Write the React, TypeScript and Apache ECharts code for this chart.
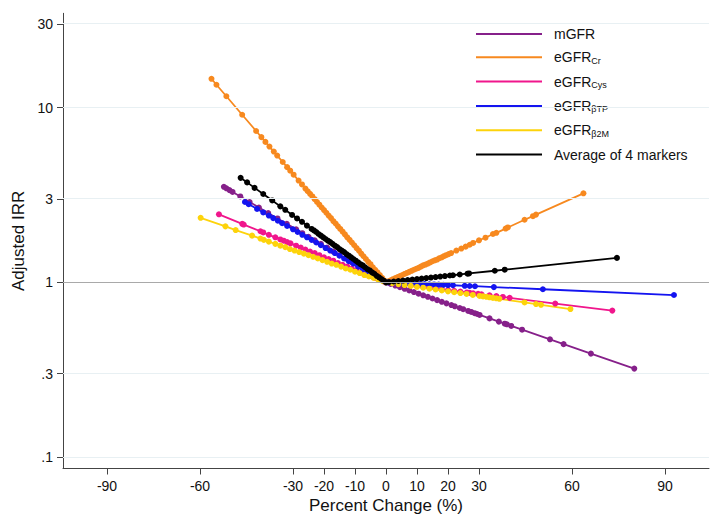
import React, { useEffect, useRef } from 'react';
import * as echarts from 'echarts';

// ---------- data ----------
const seriesNames = ['mGFR', 'eGFR_Cr', 'eGFR_Cys', 'eGFR_bTP', 'eGFR_b2M', 'Average of 4 markers'];
const legendBase = ['mGFR', 'eGFR', 'eGFR', 'eGFR', 'eGFR', 'Average of 4 markers'];
const legendSub = ['', 'Cr', 'Cys', 'βTP', 'β2M', ''];
const colors = ['#86208a', '#f7891f', '#f0168c', '#1414f0', '#fdd30b', '#000000'];

const mgfrX = [-52.3, -51.5, -50.5, -49.5, -47, -44, -41, -38, -35, -32, -29, -27, -25, -23, -21, -19, -17, -15, -13, -11, -9, -7, -5, -3, -1, 0,
  1.5, 3, 4.5, 6, 7.5, 9, 10.5, 12, 13.5, 15, 16.5, 18, 19.5, 21.1, 22.2, 23.8, 24.9, 26.5, 27.5, 28.6, 29.4, 30.2, 33.4, 36.4, 38.3, 39, 40.4, 43.9, 52.9, 57.3, 66.1, 80.1];
const mgfrIRR = [3.52, 3.45, 3.37, 3.29, 3.10, 2.88, 2.68, 2.49, 2.32, 2.16, 2.01, 1.91, 1.82, 1.74, 1.66, 1.58, 1.50, 1.43, 1.37, 1.30, 1.24, 1.18, 1.13, 1.075, 1.024, 1,
  0.979, 0.958, 0.938, 0.918, 0.899, 0.880, 0.861, 0.843, 0.826, 0.808, 0.791, 0.774, 0.758, 0.741, 0.729, 0.713, 0.702, 0.686, 0.677, 0.666, 0.659, 0.651, 0.622, 0.596, 0.580, 0.575, 0.563, 0.536, 0.472, 0.443, 0.391, 0.321];

const crX = [-56.3, -54.7, -51.5, -46.4, -41.9, -40.2, -38.9, -37.6, -36.2, -35.1, -33.3, -31.9, -30.9, -29.8, -28.2, -27.1, -26, -24.5, -23, -21.5, -20, -18.5, -17, -15.5, -14, -12.5, -11, -9.5, -8, -6.5, -5, -3.5, -2, -0.5, 0,
  1.5, 3, 4.5, 6, 7.5, 9, 10.5, 12, 13.5, 15, 16.5, 18, 19.4, 21, 22.7, 24.3, 25.7, 27, 28.1, 30, 32.1, 34.5, 35.6, 38.6, 39.3, 44.7, 47.4, 48.4, 63.7];
const crIRR = [14.6, 13.5, 11.6, 9.09, 7.34, 6.77, 6.36, 5.98, 5.60, 5.31, 4.88, 4.56, 4.35, 4.13, 3.82, 3.63, 3.44, 3.21, 2.99, 2.78, 2.59, 2.41, 2.24, 2.09, 1.95, 1.81, 1.69, 1.57, 1.46, 1.36, 1.27, 1.18, 1.10, 1.024, 1,
  1.028, 1.057, 1.086, 1.117, 1.148, 1.18, 1.21, 1.25, 1.28, 1.32, 1.35, 1.39, 1.43, 1.47, 1.52, 1.56, 1.60, 1.64, 1.68, 1.74, 1.80, 1.89, 1.92, 2.03, 2.06, 2.28, 2.39, 2.44, 3.23];
// denser observations in the crowded band near 0
const crDenseX = [-25.25, -23.75, -22.25, -20.75, -19.25, -17.75, -16.25, -14.75, -13.25, -11.75, -10.25, -8.75, -7.25, -5.75, -4.25, -2.75, -1.25,
  0.75, 2.25, 3.75, 5.25, 6.75, 8.25, 9.75, 11.25, 12.75, 14.25, 15.75, 17.25, 18.7, 20.2];
const crDenseIRR = [3.32, 3.10, 2.88, 2.68, 2.50, 2.33, 2.17, 2.02, 1.88, 1.75, 1.63, 1.52, 1.41, 1.31, 1.22, 1.14, 1.061,
  1.014, 1.042, 1.071, 1.101, 1.132, 1.164, 1.196, 1.230, 1.264, 1.300, 1.336, 1.374, 1.411, 1.450];

const cysX = [-53.9, -46.4, -45.9, -40.5, -39.6, -37.8, -35.7, -34.1, -33, -31.9, -30.8, -29, -27.5, -26, -24.5, -23, -21.5, -20, -18.5, -17, -15.5, -14, -12.5, -11, -9.5, -8, -6.5, -5, -3.5, -2, -0.5, 0,
  2, 4, 6, 8, 10, 12, 14, 16, 18, 20, 22, 24, 26.1, 27, 28.1, 29.7, 30.8, 33.4, 35.6, 37.7, 39.9, 54.6, 73];
const cysIRR = [2.45, 2.16, 2.14, 1.96, 1.93, 1.87, 1.81, 1.76, 1.73, 1.70, 1.67, 1.62, 1.58, 1.54, 1.50, 1.47, 1.43, 1.39, 1.36, 1.33, 1.29, 1.26, 1.23, 1.20, 1.17, 1.14, 1.11, 1.087, 1.06, 1.034, 1.008, 1,
  0.990, 0.980, 0.970, 0.960, 0.950, 0.941, 0.931, 0.921, 0.912, 0.903, 0.894, 0.885, 0.875, 0.871, 0.866, 0.859, 0.854, 0.843, 0.834, 0.825, 0.815, 0.756, 0.689];

const btpX = [-45.5, -44.3, -41.6, -39.6, -37.8, -36.4, -34.9, -33.5, -31.9, -30, -28.5, -27, -25.5, -24, -22.5, -21, -19.5, -18, -16.5, -15, -13.5, -12, -10.5, -9, -7.5, -6, -4.5, -3, -1.5, 0,
  0.5, 2, 3.5, 5, 6.5, 8, 9.5, 11, 12.5, 14, 15.5, 17, 18.5, 20, 21.6, 25.4, 27, 28.7, 34.8, 50.6, 92.9];
const btpIRR = [2.88, 2.80, 2.63, 2.51, 2.41, 2.33, 2.25, 2.18, 2.10, 2.01, 1.94, 1.87, 1.81, 1.75, 1.69, 1.63, 1.57, 1.52, 1.47, 1.42, 1.37, 1.32, 1.28, 1.23, 1.19, 1.15, 1.11, 1.07, 1.035, 1,
  0.999, 0.996, 0.994, 0.991, 0.988, 0.986, 0.983, 0.980, 0.978, 0.975, 0.973, 0.970, 0.967, 0.965, 0.962, 0.955, 0.953, 0.950, 0.939, 0.913, 0.846];

const b2mX = [-59.8, -51.8, -48.5, -43.2, -40.5, -39.4, -37.8, -35.7, -34.1, -32.5, -31, -29.5, -28, -26.5, -25, -23.5, -22, -20.5, -19, -17.5, -16, -14.5, -13, -11.5, -10, -8.5, -7, -5.5, -4, -2.5, -1, 0,
  2, 4, 6, 8, 10, 12, 14, 16, 18, 20, 22, 24, 26, 28, 30.2, 31.3, 32.4, 33.4, 34.5, 35.6, 36.6, 44.7, 48.4, 50, 59.5];
const b2mIRR = [2.34, 2.09, 1.99, 1.85, 1.78, 1.75, 1.71, 1.66, 1.62, 1.59, 1.55, 1.52, 1.49, 1.46, 1.43, 1.40, 1.37, 1.34, 1.31, 1.28, 1.26, 1.23, 1.20, 1.18, 1.15, 1.13, 1.10, 1.08, 1.06, 1.036, 1.014, 1,
  0.988, 0.977, 0.965, 0.954, 0.943, 0.932, 0.920, 0.910, 0.899, 0.888, 0.878, 0.868, 0.858, 0.847, 0.836, 0.831, 0.826, 0.821, 0.815, 0.810, 0.805, 0.767, 0.751, 0.744, 0.703];

const avgX = [-46.9, -44.8, -42.4, -39.6, -36.7, -34.1, -32.5, -30.3, -28.7, -27.1, -25.5, -24, -22.5, -21, -19.5, -18, -16.5, -15, -13.5, -12, -10.5, -9, -7.5, -6, -4.5, -3, -1.5, 0,
  1, 2.5, 4, 5.5, 7, 8.5, 10, 11.5, 13, 14.5, 16, 17.5, 19, 20.6, 21.6, 23.8, 26.3, 26.8, 35.1, 38.3, 74.5];
const avgIRR = [3.96, 3.73, 3.47, 3.20, 2.94, 2.72, 2.60, 2.43, 2.32, 2.22, 2.11, 2.02, 1.94, 1.85, 1.77, 1.70, 1.62, 1.55, 1.49, 1.42, 1.36, 1.30, 1.25, 1.19, 1.14, 1.09, 1.045, 1,
  1.004, 1.011, 1.0175, 1.024, 1.031, 1.038, 1.044, 1.051, 1.058, 1.065, 1.072, 1.079, 1.086, 1.094, 1.098, 1.109, 1.121, 1.124, 1.165, 1.181, 1.38];
const avgDenseX = [-23.25, -21.75, -20.25, -18.75, -17.25, -15.75, -14.25, -12.75, -11.25, -9.75, -8.25, -6.75, -5.25, -3.75, -2.25, -0.75];
const avgDenseIRR = [1.98, 1.89, 1.81, 1.73, 1.66, 1.59, 1.52, 1.45, 1.39, 1.33, 1.27, 1.22, 1.17, 1.12, 1.068, 1.022];

const xTicks = [-90, -60, -30, -20, -10, 0, 10, 20, 30, 60, 90];
const yTicks = [0.1, 0.3, 1, 3, 10, 30];
const yTickLabels = ['.1', '.3', '1', '3', '10', '30'];

const allX = [mgfrX, crX.concat(crDenseX), cysX, btpX, b2mX, avgX.concat(avgDenseX)];
const allIRR = [mgfrIRR, crIRR.concat(crDenseIRR), cysIRR, btpIRR, b2mIRR, avgIRR.concat(avgDenseIRR)];

const FONT = '"Liberation Sans", Arial, Helvetica, sans-serif';

export default function App() {
  const ref = useRef<HTMLDivElement>(null);
  useEffect(() => {
    if (!ref.current) return;
    const chart = echarts.init(ref.current, undefined, { renderer: 'svg' });
    const yTickLog = yTicks.map((v) => Math.log10(v));

    const dataSeries = seriesNames.map((name, i) => ({
      type: 'line',
      name,
      data: allX[i]
        .map((x, j) => [x, Math.log10(allIRR[i][j])])
        .sort((a, b) => a[0] - b[0]),
      symbol: 'circle',
      symbolSize: 6,
      showAllSymbol: true,
      color: colors[i],
      itemStyle: { color: colors[i] },
      lineStyle: { color: colors[i], width: 1.8 },
      z: 2,
    }));

    const gridSeries = {
      type: 'line',
      name: '__grid',
      data: [],
      z: 1,
      silent: true,
      markLine: {
        silent: true,
        symbol: ['none', 'none'],
        label: { show: false },
        data: yTicks.map((v) => ({
          yAxis: Math.log10(v),
          lineStyle: { color: v === 1 ? '#a9a9a9' : '#e8f0f3', width: 1, type: 'solid' },
        })),
      },
    };

    const rich = {
      m: { fontSize: 14, lineHeight: 16, fontFamily: FONT, color: '#111' },
      s: { fontSize: 9, lineHeight: 5, verticalAlign: 'bottom', fontFamily: FONT, color: '#111' },
    };

    chart.setOption({
      animation: false,
      textStyle: { fontFamily: FONT },
      grid: { left: 63, right: 16, top: 13.3, bottom: 62.5, containLabel: false },
      legend: {
        orient: 'vertical',
        left: 476,
        top: 27,
        padding: 0,
        itemWidth: 66,
        itemHeight: 2,
        itemGap: 9.3,
        icon: 'rect',
        data: seriesNames,
        formatter: (name: string) => {
          const i = seriesNames.indexOf(name);
          return legendSub[i] ? `{m|${legendBase[i]}}{s|${legendSub[i]}}` : `{m|${legendBase[i]}}`;
        },
        textStyle: { fontSize: 14, color: '#111', padding: [0, 0, 0, 7], rich },
      },
      xAxis: {
        type: 'value',
        min: -104.2,
        max: 104.2,
        name: 'Percent Change (%)',
        nameLocation: 'middle',
        nameGap: 25,
        nameTextStyle: { fontSize: 17, color: '#111', fontFamily: FONT },
        axisLine: { show: true, onZero: false, lineStyle: { color: '#444', width: 1 } },
        axisTick: { show: true, customValues: xTicks, length: 6, lineStyle: { color: '#444' } },
        axisLabel: { customValues: xTicks, margin: 10, fontSize: 14, color: '#111', formatter: (v: number) => String(v) },
        splitLine: { show: false },
      },
      yAxis: {
        type: 'value',
        min: -1.065,
        max: 1.539,
        name: 'Adjusted IRR',
        nameLocation: 'middle',
        nameGap: 28,
        nameTextStyle: { fontSize: 17, color: '#111', fontFamily: FONT },
        axisLine: { show: true, onZero: false, lineStyle: { color: '#444', width: 1 } },
        axisTick: { show: true, customValues: yTickLog, length: 6, lineStyle: { color: '#444' } },
        axisLabel: {
          customValues: yTickLog,
          margin: 10,
          fontSize: 14,
          color: '#111',
          formatter: (v: number) => {
            let best = 0;
            yTickLog.forEach((t, k) => {
              if (Math.abs(t - v) < Math.abs(yTickLog[best] - v)) best = k;
            });
            return yTickLabels[best];
          },
        },
        splitLine: { show: false },
      },
      series: [gridSeries, ...dataSeries],
    });
    return () => chart.dispose();
  }, []);
  return <div ref={ref} style={{ position: 'absolute', left: 0, top: 0, width: 725, height: 531 }} />;
}
